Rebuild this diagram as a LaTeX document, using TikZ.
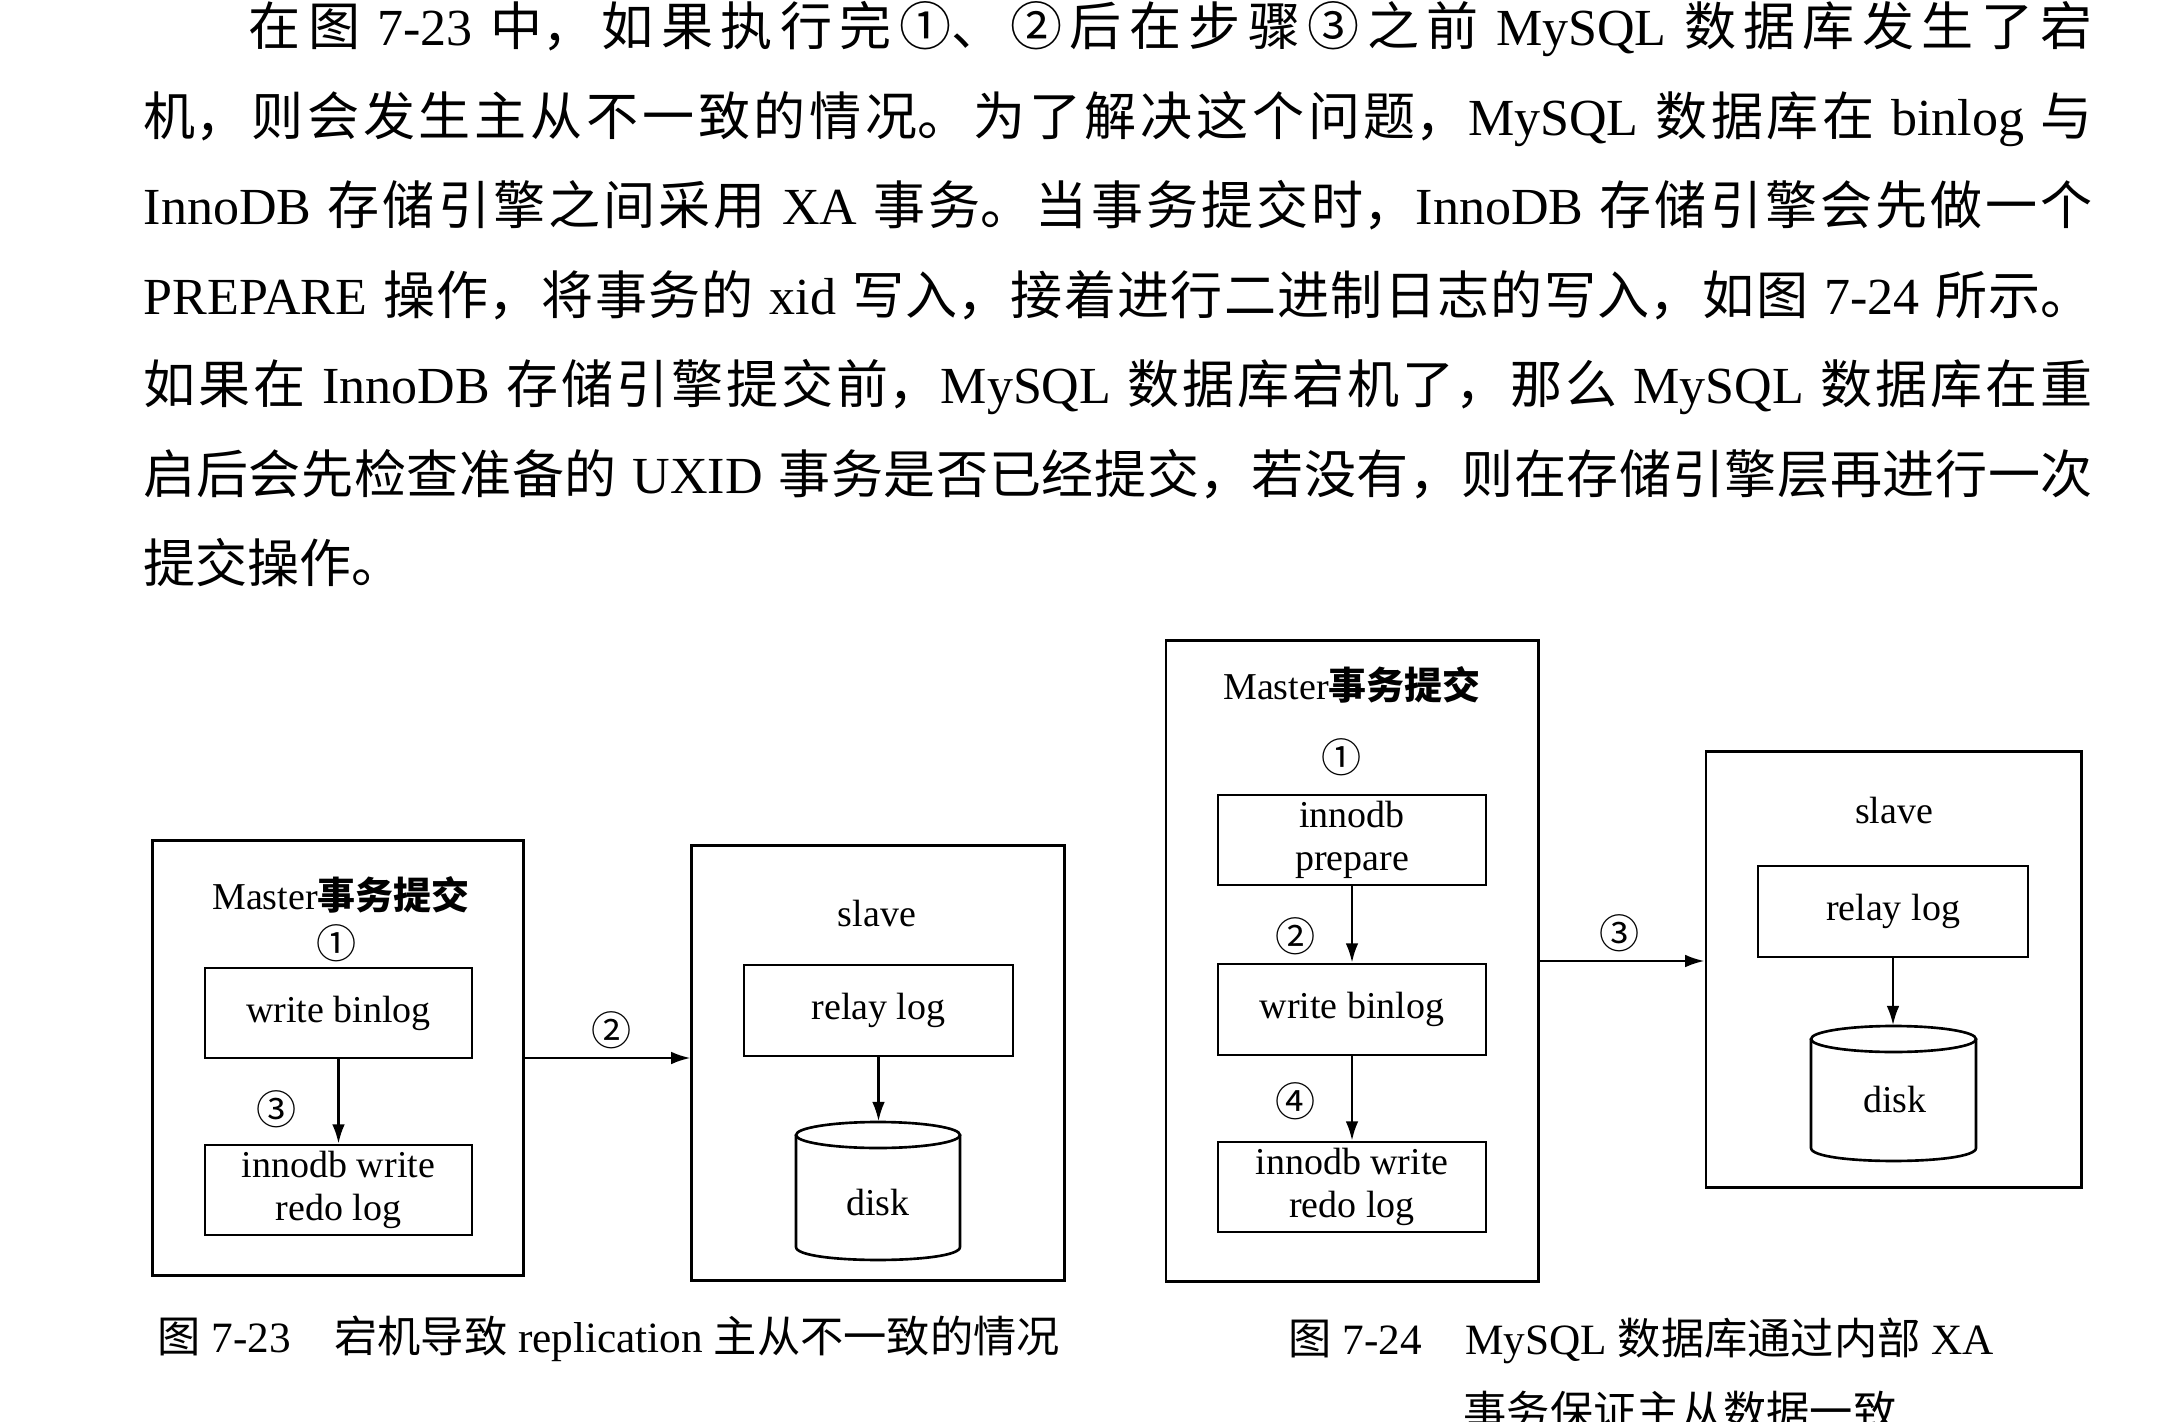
\documentclass[tikz,border=0pt]{standalone}
\usepackage{fontspec}
\setmainfont{Liberation Serif}
\newfontfamily\cjk{Noto Sans CJK SC}
\newcommand\zh[1]{{\cjk #1}}
\usetikzlibrary{arrows.meta}
\XeTeXlinebreaklocale "zh"
\XeTeXlinebreakskip=0pt plus 6pt minus 0.5pt
\newcommand\bodyfont{\fontsize{14.8pt}{17pt}\selectfont}
\newcommand\lblfont{\fontsize{10.8pt}{12.2pt}\selectfont}
\newcommand\capfont{\fontsize{12.3pt}{14pt}\selectfont}
\newcommand\numfont{\fontsize{11.4pt}{13pt}\selectfont\cjk}
\newcommand\jline[2]{\parbox[t]{#1}{\parindent=0pt\leftskip=0pt\rightskip=0pt\parfillskip=0pt
  \spaceskip=0.3em plus 0.1em minus 0.05em\tolerance=10000\hbadness=10000 #2\par}}
\begin{document}
\begin{tikzpicture}[x=0.01cm,y=-0.01cm,
  box/.style={draw, line width=0.75pt, inner sep=0pt, align=center, font=\lblfont},
  outer/.style={draw, line width=0.8pt, inner sep=0pt},
  lbl/.style={inner sep=0pt, font=\lblfont},
  num/.style={inner sep=0pt, font=\numfont},
  body/.style={anchor=base west, inner sep=0pt, font=\bodyfont},
  captxt/.style={anchor=west, inner sep=0pt, font=\capfont},
  arr/.style={line width=0.7pt, -{Latex[length=5.5pt,width=3.6pt]}},
  cyl/.style={line width=0.75pt},
  cylarea/.style={inner sep=0pt},
]
\fill[white] (0,0) rectangle (2164,1422);
\useasboundingbox (0,0) rectangle (2164,1422);

% ---------- body text ----------
\node[body] (l1) at (248,46) {\jline{18.43cm}{\zh{在图} 7-23 \zh{中，如果执行完①、②后在步骤③之前} MySQL \zh{数据库发生了宕}}};
\node[body] (l2) at (143,135.5) {\jline{19.48cm}{\zh{机，则会发生主从不一致的情况。为了解决这个问题，}MySQL \zh{数据库在} binlog \zh{与}}};
\node[body] (l3) at (143,225) {\jline{19.48cm}{InnoDB \zh{存储引擎之间采用} XA \zh{事务。当事务提交时，}InnoDB \zh{存储引擎会先做一个}}};
\node[body] (l4) at (143,314.5) {\jline{19.48cm}{PREPARE \zh{操作，将事务的} xid \zh{写入，接着进行二进制日志的写入，如图} 7-24 \zh{所示。}}};
\node[body] (l5) at (143,404) {\jline{19.48cm}{\zh{如果在} InnoDB \zh{存储引擎提交前，}MySQL \zh{数据库宕机了，那么} MySQL \zh{数据库在重}}};
\node[body] (l6) at (143,493.5) {\jline{19.48cm}{\zh{启后会先检查准备的} UXID \zh{事务是否已经提交，若没有，则在存储引擎层再进行一次}}};
\node[body] (l7) at (143,583) {\zh{提交操作。}};

% ---------- Figure 7-23 ----------
\node[outer, minimum width=3.70cm, minimum height=4.34cm] (m1) at (338,1058) {};
\node[lbl] (t1) at (341,895) {Master\zh{\bfseries 事务提交}};
\node[num] (n1a) at (337,943) {①};
\node[box, minimum width=2.67cm, minimum height=0.90cm] (wb1) at (338.5,1013) {write binlog};
\node[box, minimum width=2.67cm, minimum height=0.90cm] (rl1) at (338.5,1190) {innodb write\\redo log};
\node[num] (n1c) at (277,1109) {③};
\draw[arr] (wb1.south) -- (rl1.north);

\node[outer, minimum width=3.72cm, minimum height=4.34cm] (s1) at (878,1063) {};
\node[lbl] (sl1) at (877,914) {slave};
\node[box, minimum width=2.69cm, minimum height=0.91cm] (relay1) at (878.5,1010.5) {relay log};
\node[cylarea, minimum width=1.64cm, minimum height=1.38cm] (d1) at (878,1191) {};
\draw[cyl] (878,1135) ellipse [x radius=82, y radius=13];
\draw[cyl] (796,1135) -- (796,1247) .. controls (796,1264.3) and (960,1264.3) .. (960,1247) -- (960,1135);
\node[lbl] (dk1) at (878,1203) {disk};
\draw[arr] (relay1.south) -- (relay1.south |- d1.north);

\draw[arr] (m1.east) -- (m1.east -| s1.west);
\node[num] (n1b) at (612,1030) {②};

\node[captxt] (cap1) at (157,1339) {\zh{图} 7-23\hspace{1em}\zh{宕机导致} replication \zh{主从不一致的情况}};

% ---------- Figure 7-24 ----------
\node[outer, minimum width=3.72cm, minimum height=6.40cm] (m2) at (1352,961) {};
\node[lbl] (t2) at (1352,685) {Master\zh{\bfseries 事务提交}};
\node[num] (n2a) at (1342,757) {①};
\node[box, minimum width=2.68cm, minimum height=0.90cm] (ip2) at (1352,840) {innodb\\prepare};
\node[num] (n2b) at (1296,936) {②};
\node[box, minimum width=2.68cm, minimum height=0.91cm] (wb2) at (1352,1009.5) {write binlog};
\node[num] (n2d) at (1296,1101) {④};
\node[box, minimum width=2.68cm, minimum height=0.90cm] (rl2) at (1352,1187) {innodb write\\redo log};
\draw[arr] (ip2.south) -- (wb2.north);
\draw[arr] (wb2.south) -- (rl2.north);

\node[outer, minimum width=3.75cm, minimum height=4.35cm] (s2) at (1893.5,969.5) {};
\node[lbl] (sl2) at (1894,811) {slave};
\node[box, minimum width=2.70cm, minimum height=0.91cm] (relay2) at (1893,911.5) {relay log};
\node[cylarea, minimum width=1.65cm, minimum height=1.35cm] (d2) at (1893.5,1093.5) {};
\draw[cyl] (1893.5,1039) ellipse [x radius=82.5, y radius=13];
\draw[cyl] (1811,1039) -- (1811,1148) .. controls (1811,1165.3) and (1976,1165.3) .. (1976,1148) -- (1976,1039);
\node[lbl] (dk2) at (1895,1100) {disk};
\draw[arr] (relay2.south) -- (relay2.south |- d2.north);

\draw[arr] (m2.east) -- (m2.east -| s2.west);
\node[num] (n2c) at (1620,933) {③};

\node[captxt] (cap2) at (1288,1341) {\zh{图} 7-24\hspace{1em}MySQL \zh{数据库通过内部} XA};
\node[captxt] (cap2b) at (1463,1411) {\zh{事务保证主从数据一致}};
\end{tikzpicture}
\end{document}
